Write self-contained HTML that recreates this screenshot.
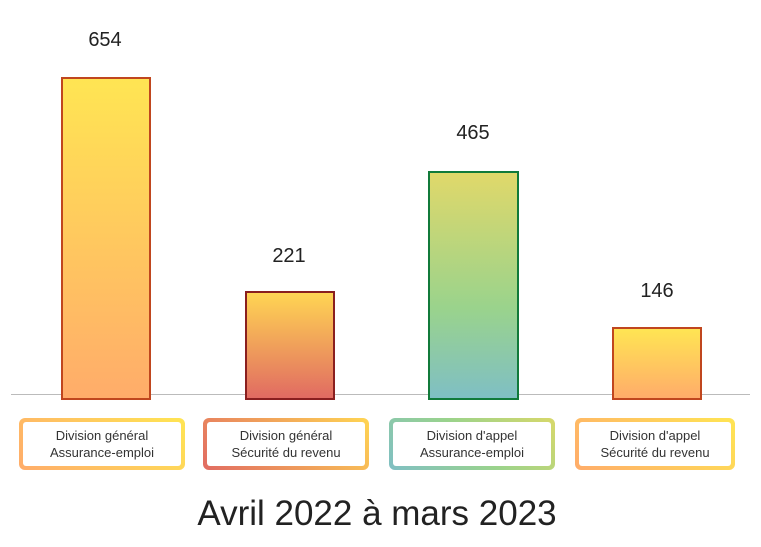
<!DOCTYPE html>
<html><head><meta charset="utf-8"><style>
body{margin:0;width:761px;height:547px;background:#fff;position:relative;overflow:hidden;font-family:"Liberation Sans",sans-serif;color:#222}
.bar{position:absolute;box-sizing:border-box;border:2px solid}
.v{position:absolute;width:100px;text-align:center;font-size:20px;color:#222}
.lb{position:absolute;top:418px;height:52px;border-radius:6px;padding:4px;box-sizing:border-box}
.lb div{background:#fff;height:100%;border-radius:3px;display:flex;align-items:center;justify-content:center;text-align:center;font-size:13px;line-height:17px;color:#333}
</style></head><body>
<div style="position:absolute;left:11px;top:394px;width:739px;height:1px;background:#bbb"></div>
<div class="bar" style="left:61px;top:77px;width:90px;height:323px;border-color:#c0461e;background:linear-gradient(#ffe553,#ffac6a)"></div>
<div class="bar" style="left:245px;top:291px;width:90px;height:109px;border-color:#8a1f1f;background:linear-gradient(#ffd553,#e16b62)"></div>
<div class="bar" style="left:428px;top:171px;width:91px;height:229px;border-color:#117a3a;background:linear-gradient(#e0d86a,#9ad38c 60%,#7fbfc4)"></div>
<div class="bar" style="left:612px;top:327px;width:90px;height:73px;border-color:#c0461e;background:linear-gradient(#ffe553,#ffac6a)"></div>
<div class="v" style="left:55px;top:29px">654</div>
<div class="v" style="left:239px;top:245px">221</div>
<div class="v" style="left:423px;top:122px">465</div>
<div class="v" style="left:607px;top:280px">146</div>
<div class="lb" style="left:19px;width:166px;background:linear-gradient(45deg,#ffac6a,#ffe553)"><div>Division général<br>Assurance-emploi</div></div>
<div class="lb" style="left:203px;width:166px;background:linear-gradient(45deg,#e16b62,#ffd553)"><div>Division général<br>Sécurité du revenu</div></div>
<div class="lb" style="left:389px;width:166px;background:linear-gradient(45deg,#7fbfc4,#9ad38c,#d8d86a)"><div>Division d'appel<br>Assurance-emploi</div></div>
<div class="lb" style="left:575px;width:160px;background:linear-gradient(45deg,#ffac6a,#ffe553)"><div>Division d'appel<br>Sécurité du revenu</div></div>
<div style="position:absolute;left:0;width:754px;top:494px;text-align:center;font-size:35px;color:#222">Avril 2022 à mars 2023</div>
</body></html>
